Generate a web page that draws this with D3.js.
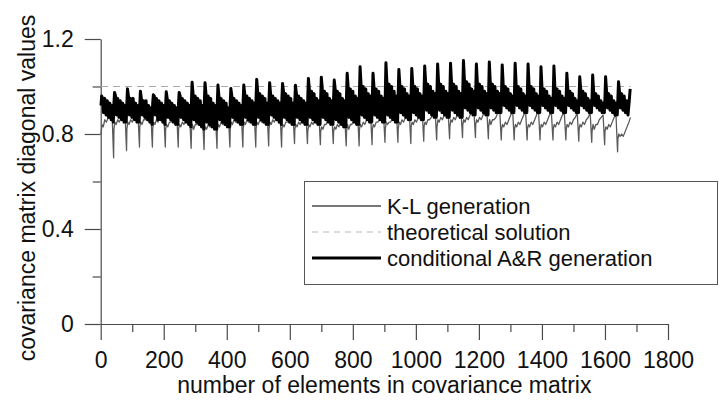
<!DOCTYPE html>
<html>
<head>
<meta charset="utf-8">
<script src="https://cdn.jsdelivr.net/npm/d3@7"></script>
<style>
  body { margin: 0; background: #fff; }
  text { font-family: "Liberation Sans", Arial, sans-serif; fill: #111; }
</style>
</head>
<body>
<script>
// 41 x 41 grid -> 1681 diagonal elements, one row of the grid = 41 elements
const rowLength = 41

// K-L generation: values at these offsets inside each grid row
const klOffsets = [0, 3, 7, 12, 17, 23, 29, 35, 40]
const klRows = [
  [0.80, 0.84, 0.83, 0.86, 0.85, 0.87, 0.88, 0.89, 0.70],
  [0.82, 0.85, 0.84, 0.86, 0.85, 0.87, 0.88, 0.89, 0.73],
  [0.82, 0.85, 0.84, 0.86, 0.85, 0.87, 0.88, 0.89, 0.745],
  [0.83, 0.85, 0.84, 0.86, 0.86, 0.87, 0.88, 0.89, 0.745],
  [0.82, 0.85, 0.84, 0.86, 0.85, 0.87, 0.88, 0.89, 0.745],
  [0.82, 0.84, 0.83, 0.85, 0.85, 0.86, 0.88, 0.89, 0.745],
  [0.82, 0.84, 0.83, 0.85, 0.84, 0.86, 0.87, 0.88, 0.74],
  [0.81, 0.84, 0.82, 0.84, 0.84, 0.86, 0.87, 0.88, 0.735],
  [0.81, 0.83, 0.82, 0.84, 0.83, 0.85, 0.86, 0.88, 0.74],
  [0.82, 0.84, 0.83, 0.85, 0.84, 0.86, 0.87, 0.88, 0.745],
  [0.82, 0.85, 0.84, 0.86, 0.85, 0.86, 0.87, 0.89, 0.745],
  [0.82, 0.85, 0.84, 0.86, 0.85, 0.87, 0.88, 0.89, 0.745],
  [0.82, 0.85, 0.84, 0.86, 0.85, 0.87, 0.88, 0.89, 0.75],
  [0.82, 0.85, 0.84, 0.86, 0.85, 0.87, 0.88, 0.89, 0.745],
  [0.82, 0.84, 0.83, 0.85, 0.85, 0.86, 0.88, 0.89, 0.76],
  [0.82, 0.84, 0.83, 0.85, 0.84, 0.86, 0.87, 0.89, 0.76],
  [0.81, 0.84, 0.83, 0.85, 0.84, 0.86, 0.87, 0.89, 0.755],
  [0.81, 0.83, 0.82, 0.84, 0.84, 0.86, 0.87, 0.89, 0.76],
  [0.81, 0.83, 0.82, 0.84, 0.83, 0.85, 0.87, 0.88, 0.75],
  [0.81, 0.84, 0.82, 0.84, 0.84, 0.86, 0.87, 0.89, 0.75],
  [0.82, 0.84, 0.83, 0.85, 0.84, 0.86, 0.88, 0.89, 0.755],
  [0.82, 0.84, 0.83, 0.85, 0.85, 0.86, 0.88, 0.89, 0.765],
  [0.82, 0.85, 0.84, 0.85, 0.85, 0.87, 0.88, 0.90, 0.765],
  [0.82, 0.85, 0.84, 0.86, 0.85, 0.87, 0.88, 0.90, 0.76],
  [0.83, 0.85, 0.84, 0.86, 0.85, 0.87, 0.89, 0.90, 0.77],
  [0.83, 0.85, 0.84, 0.86, 0.86, 0.87, 0.89, 0.90, 0.775],
  [0.83, 0.86, 0.85, 0.87, 0.86, 0.88, 0.89, 0.90, 0.78],
  [0.83, 0.86, 0.85, 0.87, 0.86, 0.88, 0.89, 0.90, 0.785],
  [0.84, 0.86, 0.85, 0.87, 0.86, 0.88, 0.89, 0.90, 0.785],
  [0.84, 0.86, 0.85, 0.87, 0.86, 0.88, 0.89, 0.90, 0.78],
  [0.83, 0.86, 0.84, 0.86, 0.86, 0.87, 0.89, 0.90, 0.775],
  [0.82, 0.84, 0.83, 0.85, 0.84, 0.86, 0.88, 0.90, 0.775],
  [0.82, 0.84, 0.83, 0.85, 0.84, 0.86, 0.88, 0.90, 0.775],
  [0.82, 0.84, 0.83, 0.85, 0.84, 0.86, 0.88, 0.90, 0.775],
  [0.82, 0.84, 0.83, 0.85, 0.84, 0.86, 0.88, 0.89, 0.775],
  [0.82, 0.84, 0.83, 0.85, 0.84, 0.86, 0.88, 0.89, 0.775],
  [0.82, 0.84, 0.83, 0.85, 0.84, 0.86, 0.87, 0.89, 0.77],
  [0.82, 0.84, 0.83, 0.85, 0.84, 0.86, 0.87, 0.89, 0.765],
  [0.81, 0.84, 0.82, 0.84, 0.84, 0.86, 0.87, 0.88, 0.755],
  [0.81, 0.83, 0.82, 0.84, 0.83, 0.85, 0.87, 0.88, 0.725],
  [0.78, 0.80, 0.79, 0.80, 0.79, 0.81, 0.83, 0.85, 0.87]
]

// conditional A&R generation: values at these offsets inside each grid row
const arOffsets = [0, 2, 5, 8, 12, 16, 20, 24, 28, 32, 36, 39]
const arRows = [
  [0.92, 0.96, 0.95, 0.89, 0.95, 0.88, 0.94, 0.87, 0.93, 0.86, 0.92, 0.85],
  [0.93, 0.975, 0.96, 0.88, 0.95, 0.87, 0.94, 0.86, 0.93, 0.85, 0.92, 0.85],
  [0.93, 0.99, 0.96, 0.88, 0.95, 0.87, 0.95, 0.86, 0.93, 0.85, 0.92, 0.85],
  [0.92, 0.98, 0.95, 0.88, 0.94, 0.87, 0.94, 0.86, 0.92, 0.85, 0.91, 0.84],
  [0.93, 0.965, 0.96, 0.88, 0.95, 0.86, 0.94, 0.86, 0.93, 0.85, 0.92, 0.84],
  [0.92, 0.978, 0.95, 0.87, 0.94, 0.86, 0.93, 0.85, 0.92, 0.84, 0.91, 0.84],
  [0.93, 0.975, 0.96, 0.87, 0.95, 0.86, 0.94, 0.85, 0.93, 0.84, 0.92, 0.83],
  [0.94, 1.018, 0.97, 0.86, 0.96, 0.85, 0.95, 0.84, 0.94, 0.83, 0.92, 0.82],
  [0.94, 1.016, 0.97, 0.85, 0.96, 0.84, 0.95, 0.83, 0.93, 0.82, 0.92, 0.82],
  [0.93, 1.006, 0.96, 0.86, 0.95, 0.85, 0.94, 0.84, 0.93, 0.83, 0.91, 0.83],
  [0.93, 0.992, 0.96, 0.87, 0.95, 0.86, 0.94, 0.85, 0.93, 0.84, 0.92, 0.84],
  [0.94, 1.006, 0.97, 0.87, 0.96, 0.86, 0.95, 0.85, 0.94, 0.84, 0.93, 0.84],
  [0.95, 1.03, 0.98, 0.87, 0.97, 0.86, 0.96, 0.85, 0.95, 0.84, 0.93, 0.84],
  [0.94, 1.016, 0.97, 0.88, 0.96, 0.87, 0.95, 0.86, 0.94, 0.85, 0.93, 0.84],
  [0.95, 1.013, 0.98, 0.87, 0.97, 0.86, 0.96, 0.85, 0.95, 0.84, 0.93, 0.84],
  [0.94, 1.005, 0.97, 0.87, 0.96, 0.86, 0.95, 0.85, 0.94, 0.84, 0.93, 0.84],
  [0.95, 1.034, 0.99, 0.87, 0.98, 0.86, 0.97, 0.85, 0.95, 0.84, 0.94, 0.84],
  [0.95, 1.039, 0.99, 0.87, 0.98, 0.86, 0.97, 0.85, 0.95, 0.84, 0.94, 0.84],
  [0.95, 1.027, 0.99, 0.86, 0.98, 0.85, 0.97, 0.84, 0.95, 0.83, 0.94, 0.83],
  [0.96, 1.056, 1.00, 0.87, 0.99, 0.86, 0.98, 0.85, 0.96, 0.84, 0.95, 0.84],
  [0.97, 1.083, 1.01, 0.88, 1.00, 0.87, 0.99, 0.86, 0.97, 0.85, 0.96, 0.85],
  [0.96, 1.056, 1.00, 0.88, 0.99, 0.87, 0.98, 0.86, 0.96, 0.85, 0.95, 0.85],
  [0.97, 1.10, 1.02, 0.88, 1.01, 0.87, 1.00, 0.86, 0.98, 0.85, 0.96, 0.85],
  [0.97, 1.072, 1.01, 0.89, 1.00, 0.88, 0.99, 0.87, 0.97, 0.86, 0.96, 0.86],
  [0.97, 1.076, 1.01, 0.89, 1.00, 0.88, 0.99, 0.87, 0.97, 0.86, 0.96, 0.86],
  [0.98, 1.086, 1.02, 0.90, 1.01, 0.89, 1.00, 0.88, 0.98, 0.87, 0.97, 0.87],
  [0.98, 1.095, 1.02, 0.90, 1.01, 0.89, 1.00, 0.88, 0.98, 0.87, 0.97, 0.87],
  [0.98, 1.098, 1.02, 0.90, 1.01, 0.89, 1.00, 0.88, 0.98, 0.87, 0.97, 0.87],
  [0.99, 1.109, 1.03, 0.91, 1.02, 0.90, 1.01, 0.89, 0.99, 0.88, 0.98, 0.88],
  [0.98, 1.095, 1.02, 0.91, 1.01, 0.90, 1.00, 0.89, 0.98, 0.88, 0.97, 0.88],
  [0.98, 1.103, 1.02, 0.91, 1.01, 0.90, 1.00, 0.89, 0.98, 0.89, 0.97, 0.89],
  [0.98, 1.091, 1.01, 0.92, 1.00, 0.91, 0.99, 0.90, 0.97, 0.89, 0.96, 0.89],
  [0.98, 1.098, 1.01, 0.92, 1.00, 0.91, 0.99, 0.90, 0.97, 0.89, 0.96, 0.89],
  [0.98, 1.095, 1.01, 0.92, 1.00, 0.91, 0.99, 0.90, 0.97, 0.89, 0.96, 0.89],
  [0.97, 1.083, 1.00, 0.92, 0.99, 0.91, 0.98, 0.90, 0.96, 0.89, 0.95, 0.89],
  [0.97, 1.086, 1.00, 0.92, 0.99, 0.91, 0.98, 0.90, 0.96, 0.89, 0.95, 0.89],
  [0.96, 1.056, 0.99, 0.92, 0.98, 0.91, 0.97, 0.90, 0.95, 0.89, 0.94, 0.89],
  [0.96, 1.041, 0.99, 0.92, 0.98, 0.91, 0.97, 0.90, 0.95, 0.89, 0.94, 0.89],
  [0.95, 1.048, 0.98, 0.92, 0.97, 0.91, 0.96, 0.90, 0.94, 0.89, 0.93, 0.89],
  [0.95, 1.041, 0.98, 0.91, 0.97, 0.90, 0.96, 0.89, 0.94, 0.88, 0.93, 0.88],
  [0.95, 1.02, 0.98, 0.91, 0.97, 0.90, 0.96, 0.89, 0.94, 0.88, 0.94, 0.99]
]

// theoretical solution
const theoryX = [1, 1681]
const theoryY = [1.0, 1.0]

const xTicks = [0, 200, 400, 600, 800, 1000, 1200, 1400, 1600, 1800]
const xMinorTicks = [100, 300, 500, 700, 900, 1100, 1300, 1500, 1700]
const yTicks = [0, 0.4, 0.8, 1.2]
const yMinorTicks = [0.2, 0.6, 1.0]
const legendLabels = ['K-L generation', 'theoretical solution', 'conditional A&R generation']

const width = 727
const height = 401
const fontSize = 23
const legendFontSize = 22

const svg = d3.select('body')
  .append('svg')
  .attr('width', width)
  .attr('height', height)

const x = d3.scaleLinear().domain([0, 1800]).range([100.7, 668])
const y = d3.scaleLinear().domain([0, 1.2]).range([324, 39])

function toPoints(rows, offsets) {
  return rows.flatMap((vals, k) => vals.map((v, i) => ({ x: k * rowLength + offsets[i] + 1, y: v })))
}

const klData = toPoints(klRows, klOffsets)
const arData = toPoints(arRows, arOffsets)
const theoryData = theoryX.map((d, i) => ({ x: d, y: theoryY[i] }))

const line = d3.line()
  .x(d => x(d.x))
  .y(d => y(d.y))

// axes
const axisColor = '#4a4a4a'

const gx = svg.append('g')
  .attr('transform', 'translate(0,324)')
  .call(d3.axisBottom(x).tickValues(xTicks).tickSize(16).tickSizeOuter(0).tickPadding(12)
    .tickFormat(d3.format('d')))
gx.append('g')
  .call(d3.axisBottom(x).tickValues(xMinorTicks).tickSize(8).tickFormat(''))
  .call(g => g.select('.domain').remove())

const gy = svg.append('g')
  .attr('transform', 'translate(100.7,0)')
  .call(d3.axisLeft(y).tickValues(yTicks).tickSize(16).tickSizeOuter(0).tickPadding(11)
    .tickFormat(d => d === 0 ? '0' : d3.format('.1f')(d)))
gy.append('g')
  .call(d3.axisLeft(y).tickValues(yMinorTicks).tickSize(8).tickFormat(''))
  .call(g => g.select('.domain').remove())

svg.selectAll('.domain, .tick line')
  .attr('stroke', axisColor)
  .attr('stroke-width', 1.2)
svg.selectAll('.tick text')
  .attr('font-size', fontSize)
  .attr('font-family', '"Liberation Sans", Arial, sans-serif')
  .attr('fill', '#111')

// axis titles
svg.append('text')
  .attr('x', (x(0) + x(1800)) / 2)
  .attr('y', 393)
  .attr('text-anchor', 'middle')
  .attr('font-size', fontSize)
  .text('number of elements in covariance matrix')

svg.append('text')
  .attr('transform', 'translate(35,188) rotate(-90)')
  .attr('text-anchor', 'middle')
  .attr('font-size', fontSize)
  .text('covariance matrix diagonal values')

// series
svg.append('path')
  .attr('d', line(klData))
  .attr('fill', 'none')
  .attr('stroke', '#5a5a5a')
  .attr('stroke-width', 1.3)
  .attr('stroke-linejoin', 'round')

svg.append('path')
  .attr('d', line(theoryData))
  .attr('fill', 'none')
  .attr('stroke', '#aaa')
  .attr('stroke-width', 1)
  .attr('stroke-dasharray', '7 5')

svg.append('path')
  .attr('d', line(arData))
  .attr('fill', 'none')
  .attr('stroke', '#000')
  .attr('stroke-width', 3)
  .attr('stroke-linejoin', 'round')

// legend
const legend = svg.append('g')
legend.append('rect')
  .attr('x', 304.5)
  .attr('y', 181.5)
  .attr('width', 413)
  .attr('height', 103)
  .attr('fill', '#fff')
  .attr('stroke', '#555')
  .attr('stroke-width', 1)

const legendStyles = [
  { stroke: '#4a4a4a', width: 1.3, dash: null },
  { stroke: '#bbb', width: 1, dash: '6 5' },
  { stroke: '#000', width: 3, dash: null }
]
legendLabels.forEach((label, i) => {
  const ly = 206 + i * 26
  legend.append('line')
    .attr('x1', 312).attr('x2', 381)
    .attr('y1', ly).attr('y2', ly)
    .attr('stroke', legendStyles[i].stroke)
    .attr('stroke-width', legendStyles[i].width)
    .attr('stroke-dasharray', legendStyles[i].dash)
  legend.append('text')
    .attr('x', 387)
    .attr('y', ly)
    .attr('dy', '0.35em')
    .attr('font-size', legendFontSize)
    .text(label)
})
</script>
</body>
</html>
